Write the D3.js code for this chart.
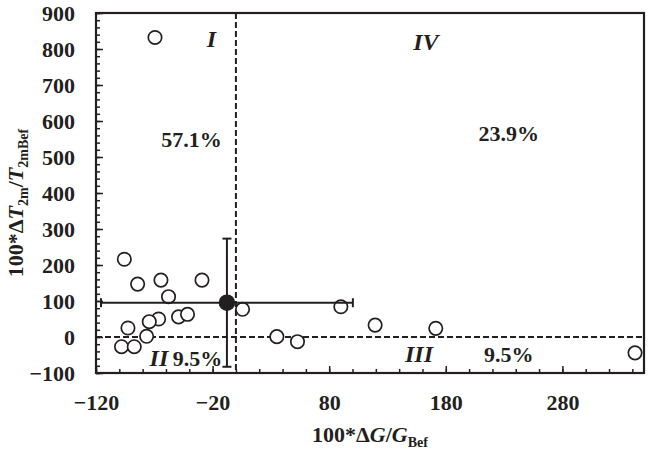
<!DOCTYPE html>
<html>
<head>
<meta charset="utf-8">
<script src="https://cdn.jsdelivr.net/npm/d3@7"></script>
<style>
  body { margin: 0; background: #fff; }
  text { font-family: "Liberation Serif", "Times New Roman", serif; font-weight: bold; fill: #231f20; }
</style>
</head>
<body>
<div id="chart"></div>
<script>
// chart size
var chart_width  = 650;
var chart_height = 453;
var margin = { top: 13, right: 6, bottom: 80, left: 96 };

// Data
var dG = [-95.7, -84.3, -64.3, -29.1, -57.8, 5.7, -49.2, -41.5, -66.3, -74.3, -92.6,
          -76.6, -98.1, -87.2, 35.1, -69.4, 90, 119.4, 171.4, 52.8, 342.3];
var dT = [216, 147, 158, 158, 112, 77, 56, 63, 50, 42.5, 25,
          2, -27, -27, 1, 832, 84, 33, 24, -13, -44];

// mean point with error bars
var mean_x = -7.7,  err_x = 108;
var mean_y = 95.3,  err_y = 178;

var x_ticks = [-120, -20, 80, 180, 280];
var y_ticks = [-100, 0, 100, 200, 300, 400, 500, 600, 700, 800, 900];

// quadrant annotations
var quad_text = ['I', 'IV', 'II', 'III', '57.1%', '23.9%', '9.5%', '9.5%'];
var quad_x    = [-21, 163, -66, 157, -38, 234, -33, 234];
var quad_y    = [805, 797, -80, -69, 528, 544, -80, -69];
var quad_ital = [true, true, true, true, false, false, false, false];

var w = chart_width - margin.left - margin.right;
var h = chart_height - margin.top - margin.bottom;

var x = d3.scaleLinear().domain([-120, 350]).range([0, w]);
var y = d3.scaleLinear().domain([-100, 900]).range([h, 0]);

var svg = d3.select('#chart')
    .append('svg')
    .attr('width', chart_width)
    .attr('height', chart_height);

var g = svg.append('g')
    .attr('transform', 'translate(' + margin.left + ',' + margin.top + ')');

// minor ticks
g.append('g')
    .attr('class', 'minor')
    .call(d3.axisLeft(y).tickValues(d3.range(-100, 901, 20)).tickSize(-4).tickFormat(''));
g.append('g')
    .attr('class', 'minor')
    .attr('transform', 'translate(0,' + h + ')')
    .call(d3.axisBottom(x).tickValues(d3.range(-120, 351, 20)).tickSize(-4).tickFormat(''));

// major axes
var yAxis = g.append('g')
    .call(d3.axisLeft(y).tickValues(y_ticks).tickSize(-7).tickPadding(21));
var xAxis = g.append('g')
    .attr('transform', 'translate(0,' + h + ')')
    .call(d3.axisBottom(x).tickValues(x_ticks).tickSize(-7).tickPadding(21));

g.selectAll('.domain').remove();
g.selectAll('.tick line').attr('stroke', '#231f20').attr('stroke-width', 1.5);
yAxis.selectAll('text').style('font-size', '22px');
xAxis.selectAll('text').style('font-size', '22px');

// frame
g.append('rect')
    .attr('width', w)
    .attr('height', h)
    .attr('fill', 'none')
    .attr('stroke', '#231f20')
    .attr('stroke-width', 2.2);

// dashed zero lines
g.append('line')
    .attr('x1', 0).attr('x2', w)
    .attr('y1', y(0)).attr('y2', y(0))
    .attr('stroke', '#231f20').attr('stroke-width', 2)
    .attr('stroke-dasharray', '6,3');
g.append('line')
    .attr('x1', x(0)).attr('x2', x(0))
    .attr('y1', 0).attr('y2', h)
    .attr('stroke', '#231f20').attr('stroke-width', 2)
    .attr('stroke-dasharray', '6,3');

// open circles
var pts = dG.map(function(d, i){ return [d, dT[i]]; });
g.selectAll('circle.pt')
    .data(pts)
    .enter()
    .append('circle')
    .attr('class', 'pt')
    .attr('cx', function(d){ return x(d[0]); })
    .attr('cy', function(d){ return y(d[1]); })
    .attr('r', 6.7)
    .attr('fill', 'white')
    .attr('stroke', '#231f20')
    .attr('stroke-width', 1.7);

// error bars
var cap = 4.5;
var eb = g.append('g').attr('stroke', '#231f20').attr('stroke-width', 2);
eb.append('line')
    .attr('x1', x(mean_x - err_x)).attr('x2', x(mean_x + err_x))
    .attr('y1', y(mean_y)).attr('y2', y(mean_y));
eb.append('line')
    .attr('x1', x(mean_x)).attr('x2', x(mean_x))
    .attr('y1', y(mean_y - err_y)).attr('y2', y(mean_y + err_y));
[mean_x - err_x, mean_x + err_x].forEach(function(v){
    eb.append('line')
        .attr('x1', x(v)).attr('x2', x(v))
        .attr('y1', y(mean_y) - cap).attr('y2', y(mean_y) + cap);
});
[mean_y - err_y, mean_y + err_y].forEach(function(v){
    eb.append('line')
        .attr('x1', x(mean_x) - cap).attr('x2', x(mean_x) + cap)
        .attr('y1', y(v)).attr('y2', y(v));
});
g.append('circle')
    .attr('cx', x(mean_x))
    .attr('cy', y(mean_y))
    .attr('r', 8.3)
    .attr('fill', '#231f20');

// quadrant labels
g.selectAll('text.quad')
    .data(quad_text)
    .enter()
    .append('text')
    .attr('class', 'quad')
    .attr('x', function(d, i){ return x(quad_x[i]); })
    .attr('y', function(d, i){ return y(quad_y[i]); })
    .attr('text-anchor', 'middle')
    .style('font-size', function(d, i){ return quad_ital[i] ? '24px' : '22px'; })
    .style('font-style', function(d, i){ return quad_ital[i] ? 'italic' : 'normal'; })
    .text(function(d){ return d; });

// x axis title
var xt = svg.append('text')
    .attr('x', margin.left + w / 2)
    .attr('y', 442)
    .attr('text-anchor', 'middle')
    .style('font-size', '22px');
xt.append('tspan').text('100*\u0394');
xt.append('tspan').style('font-style', 'italic').text('G');
xt.append('tspan').text('/');
xt.append('tspan').style('font-style', 'italic').text('G');
xt.append('tspan').attr('dy', 5).style('font-size', '14px').text('Bef');

// y axis title
var yt = svg.append('text')
    .attr('transform', 'translate(23,203) rotate(-90)')
    .attr('text-anchor', 'middle')
    .style('font-size', '22px');
yt.append('tspan').text('100*\u0394');
yt.append('tspan').style('font-style', 'italic').text('T');
yt.append('tspan').attr('dy', 5).style('font-size', '14px').text('2m');
yt.append('tspan').attr('dy', -5).text('/');
yt.append('tspan').style('font-style', 'italic').text('T');
yt.append('tspan').attr('dy', 5).style('font-size', '14px').text('2mBef');
</script>
</body>
</html>
